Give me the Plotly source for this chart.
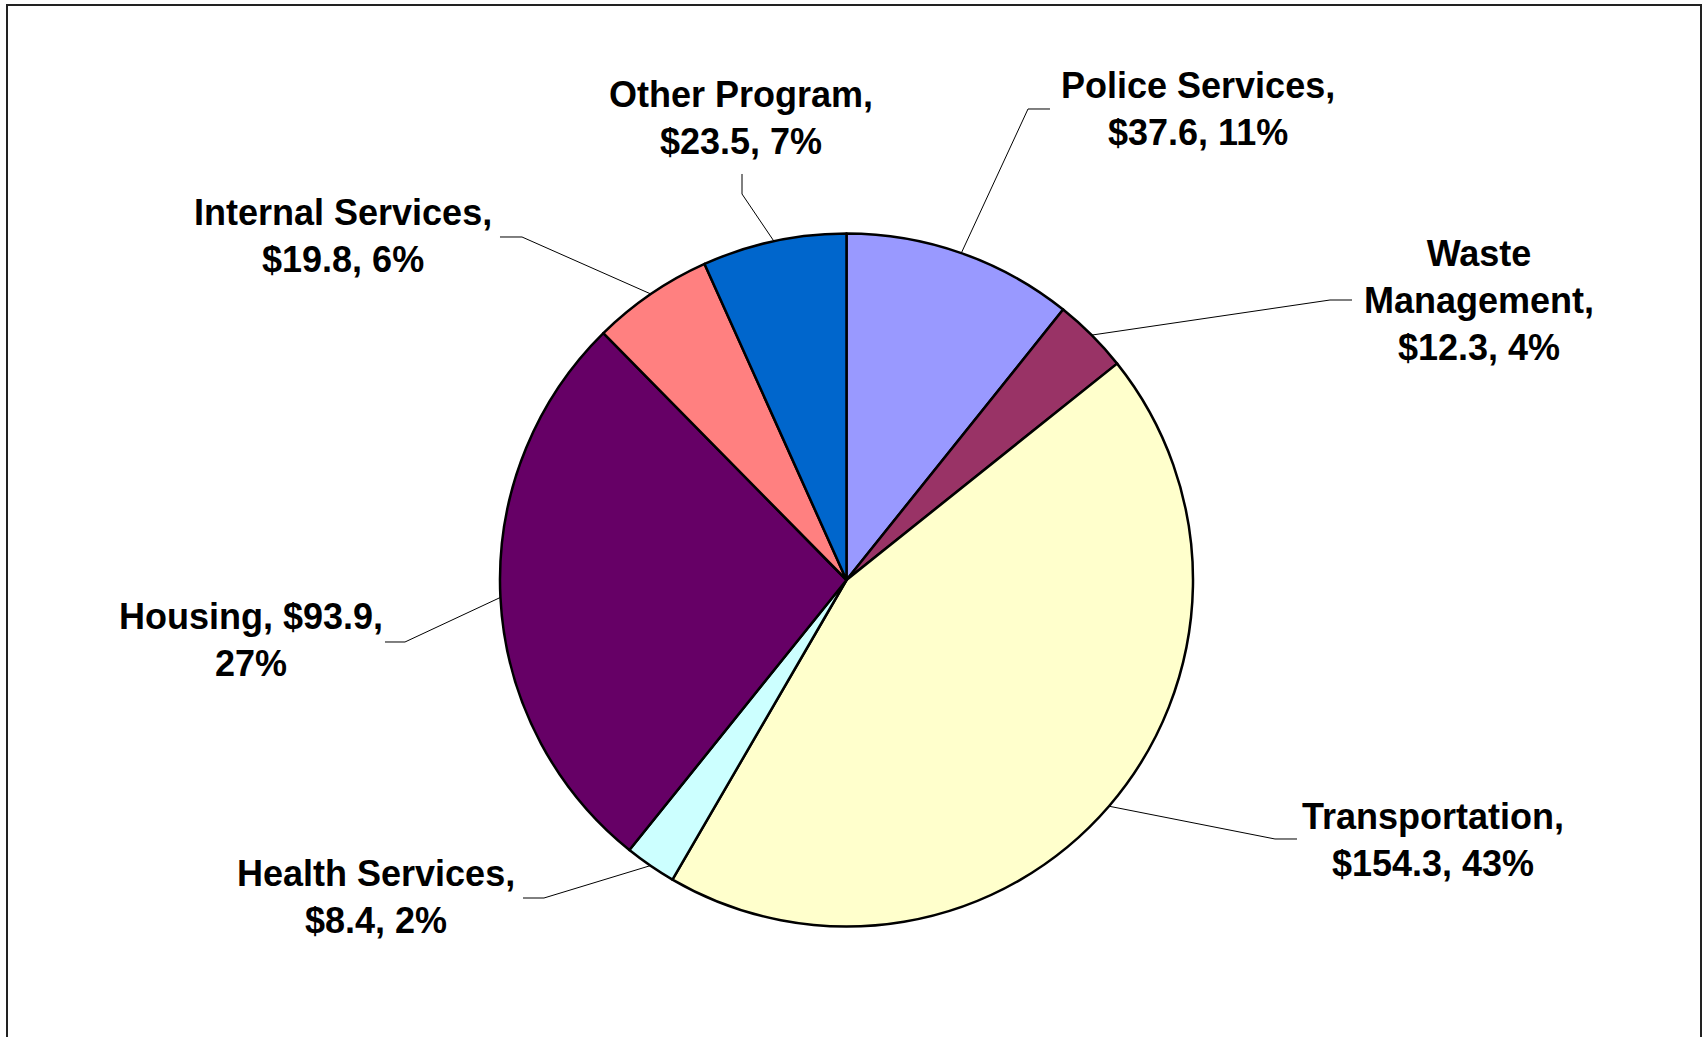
import math
import plotly.graph_objects as go

# Budget by program area ($ millions), clockwise from 12 o'clock
categories = ["Police Services", "Waste Management", "Transportation", "Health Services",
              "Housing", "Internal Services", "Other Program"]
values = [37.6, 12.3, 154.3, 8.4, 93.9, 19.8, 23.5]
label_text = [
    "Police Services,<br>$37.6, 11%",
    "Waste<br>Management,<br>$12.3, 4%",
    "Transportation,<br>$154.3, 43%",
    "Health Services,<br>$8.4, 2%",
    "Housing, $93.9,<br>27%",
    "Internal Services,<br>$19.8, 6%",
    "Other Program,<br>$23.5, 7%",
]
colors = ["#9999FF", "#993366", "#FFFFCC", "#CCFFFF", "#660066", "#FF8080", "#0066CC"]

W, H = 1706, 1037
CX, CY, R = 846.5, 580.0, 346.5  # pie centre / radius in pixels

# label centre and leader-line elbow points (pixels), per category
label_pos = {
    "Police Services": (1198, 109.5),
    "Waste Management": (1478.5, 300),
    "Transportation": (1433, 840),
    "Health Services": (376, 896.5),
    "Housing": (251, 639.5),
    "Internal Services": (343, 236.5),
    "Other Program": (741, 118),
}
leader_pts = {
    "Police Services": [(1028, 109), (1050, 109)],
    "Waste Management": [(1330, 300), (1352, 300)],
    "Transportation": [(1275, 839), (1297, 839)],
    "Health Services": [(544, 898), (523, 898)],
    "Housing": [(405, 642), (385, 642)],
    "Internal Services": [(522, 237), (500, 237)],
    "Other Program": [(742, 194), (742, 174)],
}


def px(x):
    return x / W


def py(y):
    return 1 - y / H


fig = go.Figure(go.Pie(
    labels=categories,
    values=values,
    sort=False,
    direction="clockwise",
    rotation=0,
    textinfo="none",
    hoverinfo="skip",
    marker=dict(colors=colors, line=dict(color="black", width=2.5)),
    domain=dict(x=[(CX - R) / W, (CX + R) / W],
                y=[(H - CY - R) / H, (H - CY + R) / H]),
    showlegend=False,
))

total = sum(values)
shapes = []
annotations = []
cum = 0.0
for name, v, txt in zip(categories, values, label_text):
    mid = (cum + v / 2) / total * 2 * math.pi
    cum += v
    sx = CX + R * math.sin(mid)
    sy = CY - R * math.cos(mid)
    pts = [(sx, sy)] + leader_pts[name]
    path = "M " + " L ".join(f"{px(x):.5f},{py(y):.5f}" for x, y in pts)
    shapes.append(dict(type="path", path=path, xref="paper", yref="paper",
                       line=dict(color="black", width=1)))
    lx, ly = label_pos[name]
    annotations.append(dict(
        x=px(lx), y=py(ly), xref="paper", yref="paper",
        text=f"<b>{txt}</b>", showarrow=False,
        xanchor="center", yanchor="middle", align="center",
        font=dict(family="Arial, Liberation Sans, sans-serif", size=36, color="black"),
    ))

# chart frame
shapes.append(dict(type="rect", xref="paper", yref="paper",
                   x0=px(7), x1=px(1701), y0=-0.05, y1=py(5),
                   line=dict(color="#222222", width=2)))

fig.update_layout(
    width=W, height=H,
    margin=dict(l=0, r=0, t=0, b=0),
    paper_bgcolor="white",
    plot_bgcolor="white",
    shapes=shapes,
    annotations=annotations,
)

fig.write_html("out.html")
